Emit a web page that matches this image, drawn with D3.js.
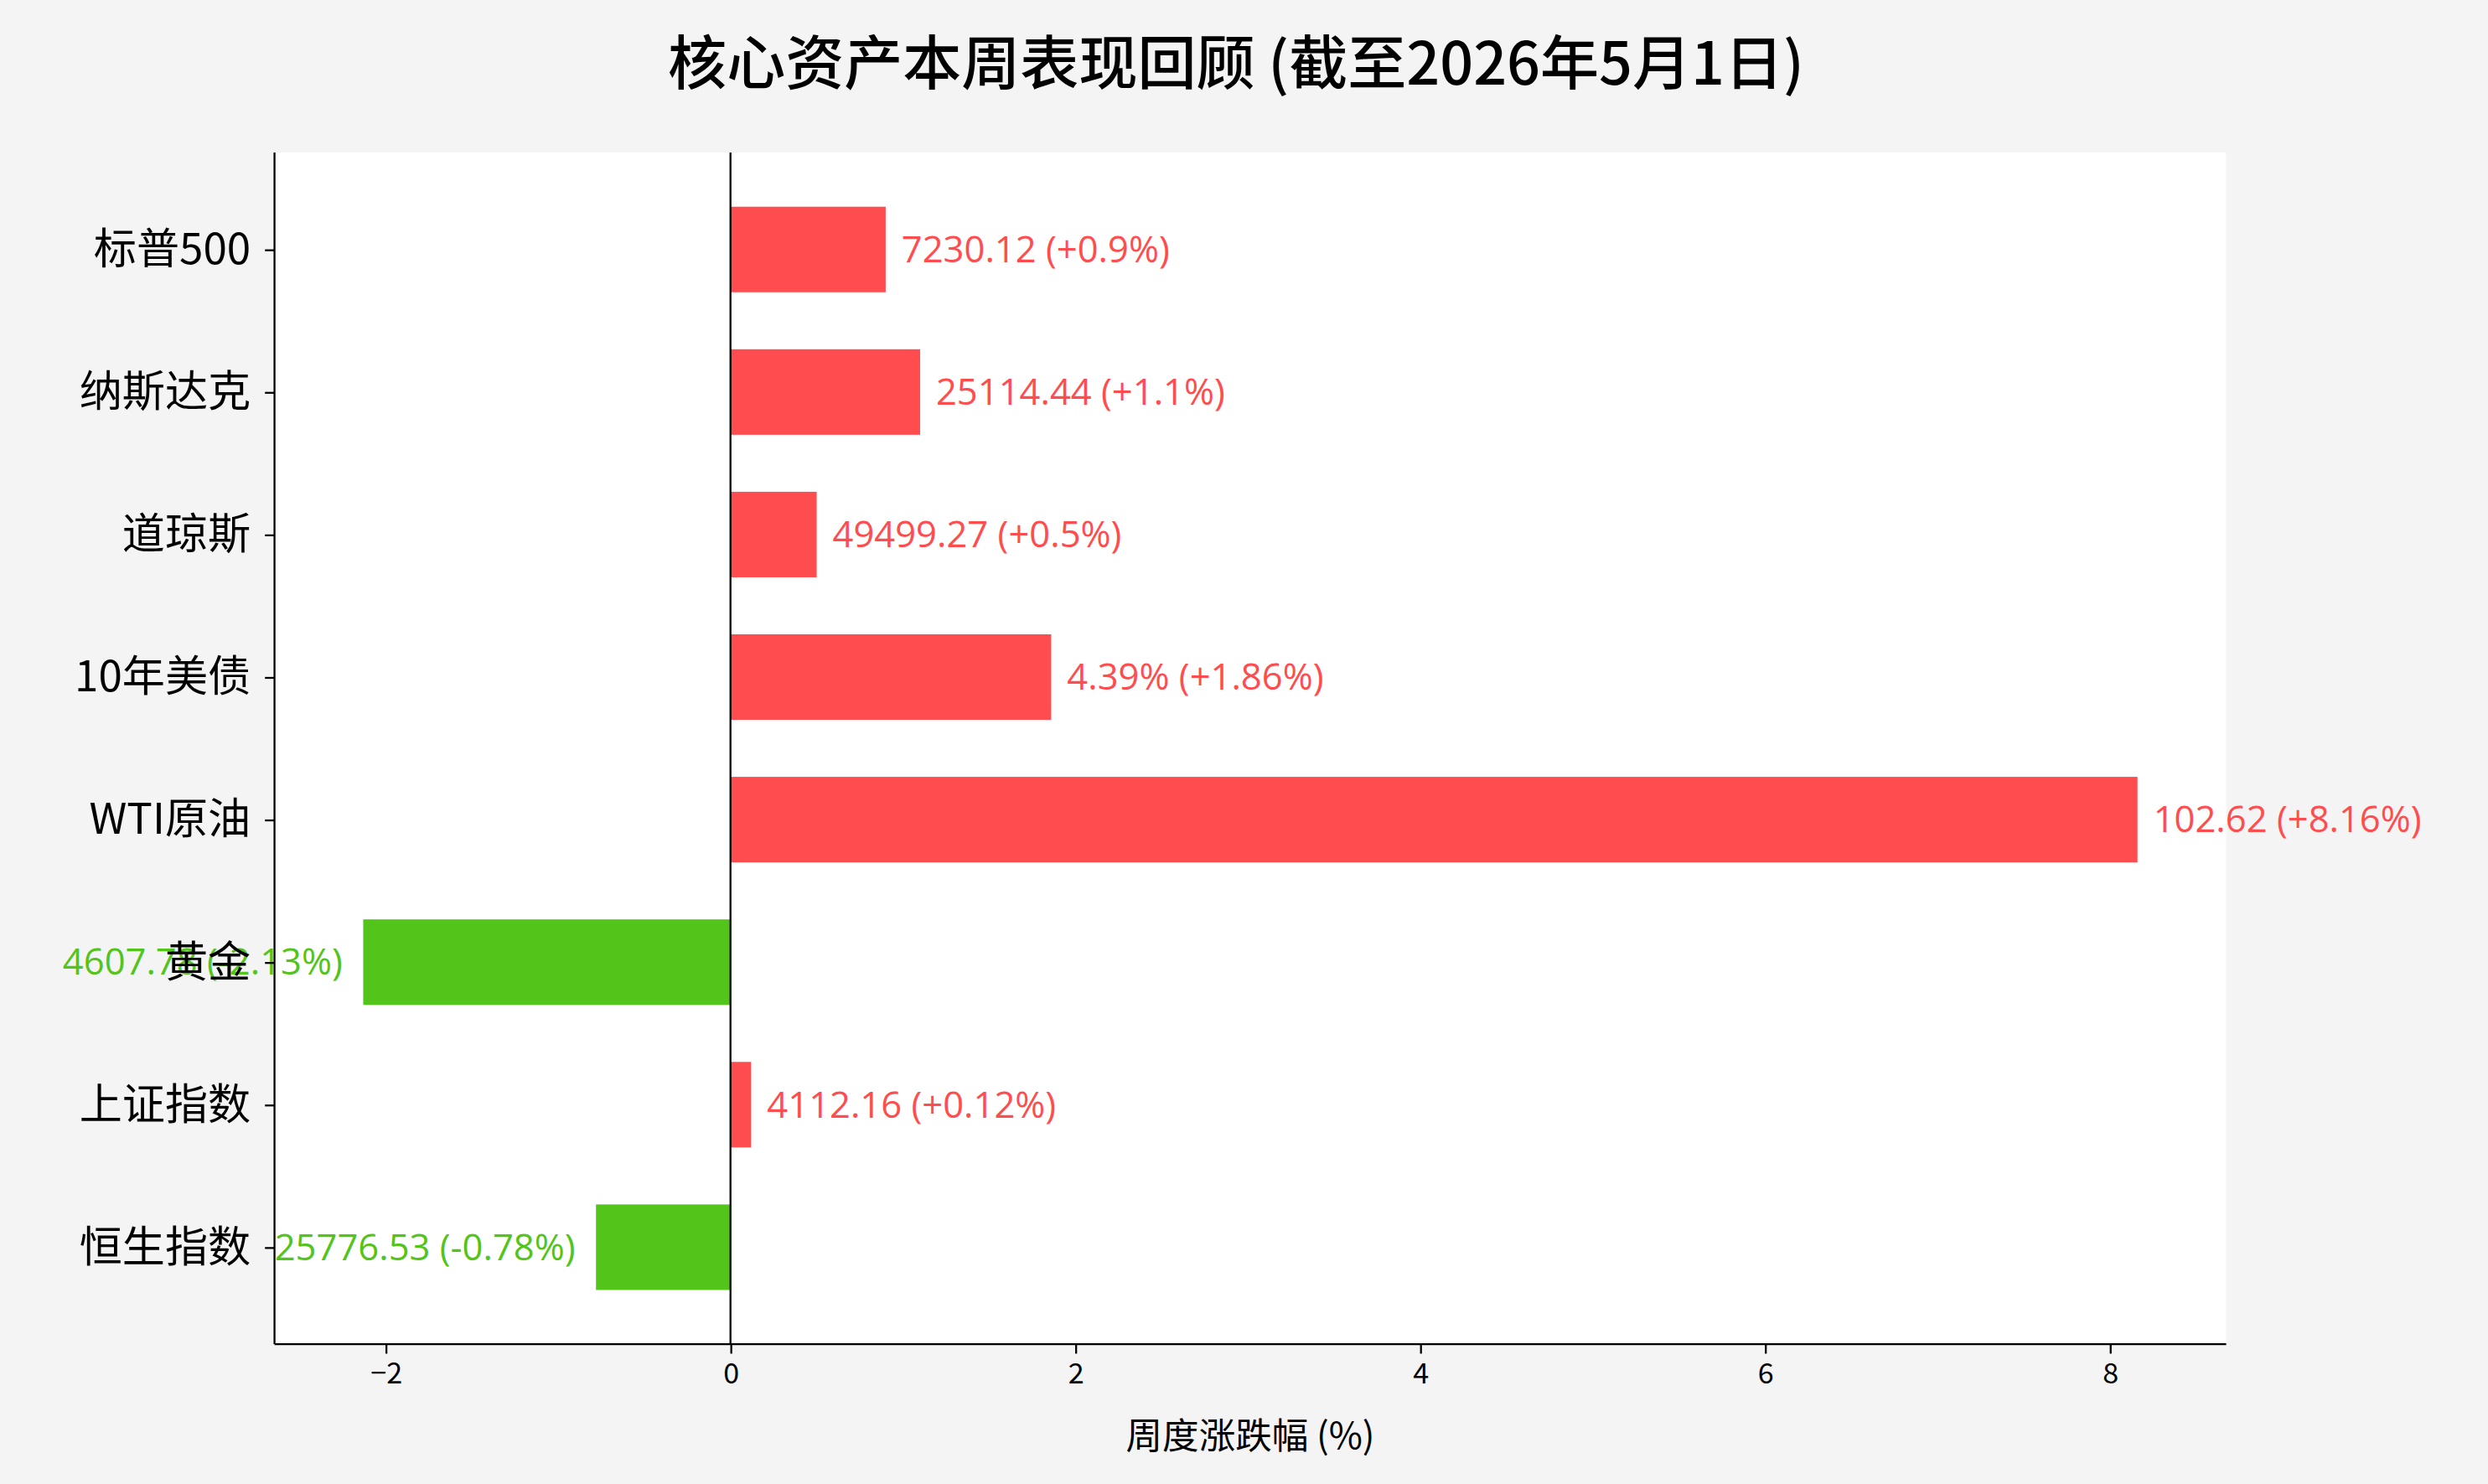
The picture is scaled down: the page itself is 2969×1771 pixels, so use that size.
<!DOCTYPE html>
<html><head><meta charset="utf-8">
<script src="https://cdn.jsdelivr.net/npm/d3@7"></script>
<style>body{margin:0;background:#f4f4f4}</style>
</head><body><div id="chart"></div>
<script>
const categories = ['标普500', '纳斯达克', '道琼斯', '10年美债', 'WTI原油', '黄金', '上证指数', '恒生指数'];
const changes = [0.9, 1.1, 0.5, 1.86, 8.16, -2.13, 0.12, -0.78];
const labels = ['7230.12 (+0.9%)', '25114.44 (+1.1%)', '49499.27 (+0.5%)', '4.39% (+1.86%)',
  '102.62 (+8.16%)', '4607.78 (-2.13%)', '4112.16 (+0.12%)', '25776.53 (-0.78%)'];
const xTicks = [-2, 0, 2, 4, 6, 8];

const font = '"Noto Sans CJK SC", "Noto Sans", sans-serif';
const latinFont = '"Open Sans", "Noto Sans CJK SC", sans-serif';
const W = 1568, H = 935;
const m = { left: 173, right: 1403, top: 96, bottom: 847 };

const svg = d3.select('#chart').append('svg')
  .attr('width', 2969).attr('height', 1771)
  .attr('viewBox', `0 0 ${W} ${H}`)
  .style('font-family', font);

svg.append('rect').attr('width', W).attr('height', H).attr('fill', '#f4f4f4');
svg.append('rect').attr('x', m.left).attr('y', m.top)
  .attr('width', m.right - m.left).attr('height', m.bottom - m.top).attr('fill', '#fff');

const lo = d3.min(changes), hi = d3.max(changes), pad = (hi - lo) * 0.05;
const x = d3.scaleLinear().domain([lo - pad, hi + pad]).range([m.left, m.right]);
const y = d3.scaleLinear().domain([-0.68, 7.68]).range([m.top, m.bottom]);
const red = '#ff4d4f', green = '#52c41a';

// Bars
svg.selectAll('.bar').data(changes).join('rect')
  .attr('x', d => x(Math.min(0, d)))
  .attr('width', d => Math.abs(x(d) - x(0)))
  .attr('y', (d, i) => y(i - 0.3))
  .attr('height', y(0.6) - y(0))
  .attr('fill', d => d >= 0 ? red : green);

// Zero line
svg.append('line').attr('x1', x(0)).attr('x2', x(0)).attr('y1', m.top).attr('y2', m.bottom)
  .attr('stroke', '#000').attr('stroke-width', 1.2);

// Value labels
svg.selectAll('.val').data(changes).join('text')
  .attr('x', d => d >= 0 ? x(d) + 10 : x(d) - 13)
  .attr('y', (d, i) => y(i))
  .attr('dy', '0.35em')
  .attr('text-anchor', d => d >= 0 ? 'start' : 'end')
  .attr('fill', d => d >= 0 ? red : green)
  .style('font-family', latinFont)
  .style('font-size', '23px')
  .text((d, i) => labels[i]);

// Axes
const xAxis = svg.append('g').attr('transform', `translate(0,${m.bottom})`)
  .call(d3.axisBottom(x).tickValues(xTicks).tickSize(6).tickPadding(6).tickFormat(d3.format('d')));
xAxis.selectAll('text').style('font-size', '18px').style('font-family', font).attr('fill', '#000');

const yAxis = svg.append('g').attr('transform', `translate(${m.left},0)`)
  .call(d3.axisLeft(y).tickValues(d3.range(categories.length)).tickFormat(i => categories[i]).tickSize(6).tickPadding(9));
yAxis.selectAll('text').style('font-size', '27px').style('font-family', font).attr('fill', '#000');
yAxis.select('.domain').attr('d', `M0,${m.top}V${m.bottom}`);
xAxis.select('.domain').attr('d', `M${m.left},0H${m.right}`);
svg.selectAll('.domain, .tick line').attr('stroke', '#000').attr('stroke-width', 1.2);

svg.append('text').attr('x', (m.left + m.right) / 2).attr('y', 913)
  .attr('text-anchor', 'middle').style('font-size', '23px').text('周度涨跌幅 (%)');

svg.append('text').attr('x', W / 2 - 5).attr('y', 53)
  .attr('text-anchor', 'middle').style('font-size', '37px').style('font-weight', '500')
  .text('核心资产本周表现回顾 (截至2026年5月1日)');
</script></body></html>
